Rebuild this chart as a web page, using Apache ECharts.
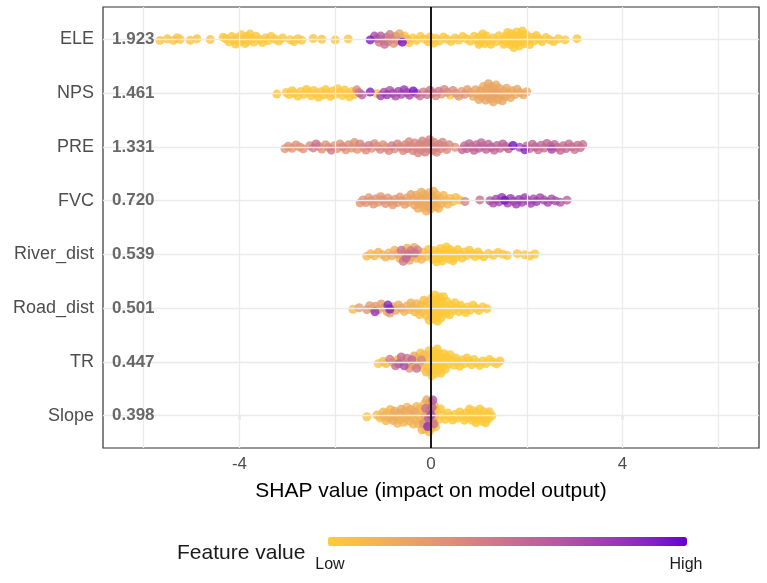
<!DOCTYPE html>
<html>
<head>
<meta charset="utf-8">
<script src="https://cdn.jsdelivr.net/npm/echarts@6/dist/echarts.min.js"></script>
<style>
  html, body { margin: 0; padding: 0; background: #fff; }
  #chart { width: 767px; height: 583px; }
</style>
</head>
<body>
<div id="chart"></div>
<script>
// features, top to bottom, with mean |SHAP| shown next to each name
var features = ['ELE', 'NPS', 'PRE', 'FVC', 'River_dist', 'Road_dist', 'TR', 'Slope'];
var meanAbs = ['1.923', '1.461', '1.331', '0.720', '0.539', '0.501', '0.447', '0.398'];
var xTicks = [-4, 0, 4];

// points per feature: [SHAP value, scaled feature value 0..1]
var ele = [[-5.66,.05],[-5.51,.05],[-5.38,.05],[-5.3,.05],[-5.24,.05],[-5.03,.05],[-4.89,.05],[-4.61,.05],
  [-4.34,.03],[-4.28,.03],[-4.22,.03],[-4.16,.03],[-4.12,.03],[-4.08,.03],[-4.04,.03],[-4.0,.03],[-3.96,.03],[-3.92,.03],[-3.88,.03],[-3.85,.03],[-3.82,.03],[-3.78,.03],[-3.74,.03],[-3.7,.03],
  [-3.65,.03],[-3.58,.03],[-3.52,.03],[-3.46,.03],[-3.4,.03],[-3.34,.03],[-3.26,.03],[-3.18,.03],[-3.1,.03],
  [-2.94,.04],[-2.86,.04],[-2.78,.04],[-2.7,.04],[-2.46,.05],[-2.28,.05],[-2.0,.05],[-1.73,.05],
  [-1.27,.92],[-1.18,.7],[-1.12,.55],[-1.08,.45],[-1.05,.62],[-1.0,.4],[-0.97,.5],[-0.93,.42],[-0.9,.35],[-0.86,.45],[-0.82,.38],[-0.78,.3],[-0.74,.25],[-0.7,.33],[-0.66,.2],[-0.62,.1],[-0.6,.95],[-0.55,.05],[-0.5,.12],
  [-0.46,.03],[-0.38,.03],[-0.3,.03],[-0.22,.03],[-0.14,.03],[-0.06,.03],[-0.02,.03],[0.02,.03],[0.06,.03],[0.1,.03],[0.18,.03],[0.26,.03],[0.34,.03],[0.42,.03],[0.5,.03],[0.58,.03],[0.66,.03],[0.74,.03],[0.82,.03],
  [0.9,.02],[0.95,.02],[1.0,.02],[1.02,.02],[1.04,.02],[1.08,.02],[1.1,.02],[1.12,.02],[1.16,.02],[1.2,.02],[1.25,.02],[1.3,.02],[1.36,.02],[1.42,.02],[1.48,.02],[1.52,.02],[1.56,.02],[1.58,.02],[1.6,.02],[1.63,.02],[1.66,.02],[1.68,.02],[1.7,.02],[1.73,.02],[1.76,.02],[1.78,.02],[1.79,.02],[1.82,.02],[1.85,.02],[1.87,.02],[1.88,.02],[1.91,.02],[1.94,.02],[1.96,.02],[1.98,.02],[2.02,.02],[2.06,.02],[2.1,.02],[2.15,.02],[2.2,.02],[2.26,.02],[2.32,.02],[2.4,.02],[2.48,.02],[2.56,.02],[2.66,.02],[2.8,.02],[3.05,.03]];

var nps = [[-3.22,.03],[-3.02,.02],[-2.96,.02],[-2.9,.02],[-2.85,.02],[-2.78,.02],[-2.72,.02],[-2.66,.02],[-2.6,.02],[-2.55,.02],[-2.5,.02],[-2.45,.02],[-2.4,.02],[-2.35,.02],[-2.3,.02],[-2.25,.02],[-2.2,.02],[-2.15,.02],[-2.1,.02],[-2.05,.02],[-2.0,.02],[-1.95,.02],[-1.9,.02],[-1.85,.02],[-1.8,.02],[-1.75,.02],[-1.7,.02],[-1.65,.02],[-1.6,.04],
  [-1.55,.35],[-1.5,.5],[-1.44,.6],[-1.27,.9],[-1.13,.05],[-1.05,.75],[-0.98,.7],[-0.92,.8],[-0.86,.65],[-0.8,.72],[-0.74,.68],[-0.68,.75],[-0.62,.7],[-0.56,.8],[-0.5,.65],[-0.45,.72],[-0.37,.95],[-0.3,.6],[-0.23,.5],[-0.16,.45],[-0.08,.5],[-0.02,.48],[0.04,.42],[0.1,.35],[0.16,.45],[0.22,.3],[0.28,.38],[0.34,.3],[0.4,.02],[0.46,.35],[0.52,.28],[0.58,.3],[0.64,.25],[0.7,.32],[0.76,.25],
  [0.82,.22],[0.88,.2],[0.93,.22],[0.97,.2],[1.0,.2],[1.03,.22],[1.06,.2],[1.09,.18],[1.12,.2],[1.14,.22],[1.16,.2],[1.18,.2],[1.2,.22],[1.22,.18],[1.24,.2],[1.26,.2],[1.28,.22],[1.3,.2],[1.32,.2],[1.34,.18],[1.36,.2],[1.38,.22],[1.4,.2],[1.43,.2],[1.46,.2],[1.49,.22],[1.52,.2],[1.55,.2],[1.58,.2],[1.62,.2],[1.66,.2],[1.7,.2],[1.75,.2],[1.8,.2],[1.86,.2],[1.93,.2],[2.0,.2]];

var pre = [[-3.05,.3],[-2.98,.32],[-2.9,.3],[-2.82,.33],[-2.74,.3],[-2.67,.32],[-2.53,.35],[-2.46,.45],[-2.4,.5],[-2.34,.35],[-2.28,.32],[-2.2,.3],[-2.14,.35],[-2.08,.45],[-2.02,.3],[-1.96,.33],[-1.9,.3],[-1.84,.38],[-1.78,.3],[-1.72,.35],[-1.66,.3],[-1.6,.32],[-1.59,0],[-1.54,.3],[-1.48,.4],[-1.42,.3],[-1.36,.35],[-1.3,.45],[-1.24,.32],[-1.18,.35],[-1.12,.3],[-1.06,.4],[-1.0,.33],[-0.94,.3],[-0.88,.38],[-0.82,.45],[-0.76,.35],[-0.7,.4],[-0.64,.38],
  [-0.58,.38],[-0.54,.36],[-0.5,.4],[-0.46,.38],[-0.42,.35],[-0.38,.4],[-0.34,.38],[-0.3,.36],[-0.27,.4],[-0.24,.38],[-0.21,.35],[-0.18,.4],[-0.15,.38],[-0.12,.42],[-0.09,.38],[-0.06,.36],[-0.03,.4],[0,.38],[0.03,.4],[0.06,.38],[0.09,.42],[0.12,.38],[0.16,.4],[0.2,.36],[0.24,.4],[0.28,.38],[0.33,.35],[0.38,.38],[0.5,.32],
  [0.65,.55],[0.7,.55],[0.75,.58],[0.8,.55],[0.85,.55],[0.9,.58],[0.95,.55],[1.0,.6],[1.05,.55],[1.1,.55],[1.15,.58],[1.2,.55],[1.26,.6],[1.32,.55],[1.38,.58],[1.44,.55],[1.5,.6],[1.56,.55],[1.62,.58],[1.71,.95],[1.85,.7],[1.96,.9],[2.0,.55],[2.06,.5],[2.12,.55],[2.18,.58],[2.24,.5],[2.3,.55],[2.36,.52],[2.42,.55],[2.5,.6],[2.52,.75],[2.58,.55],[2.64,.5],[2.7,.55],[2.76,.52],[2.82,.55],[2.88,.5],[2.94,.52],[3.0,.48],[3.06,.5],[3.12,.52],[3.17,.48]];

var fvc = [[-1.48,.3],[-1.42,.32],[-1.36,.3],[-1.3,.28],[-1.25,.32],[-1.2,.3],[-1.15,.3],[-1.1,.28],[-1.05,.3],[-1.0,.32],[-0.95,.3],[-0.9,.28],[-0.85,.3],[-0.8,.27],[-0.75,.3],[-0.7,.26],[-0.65,.28],[-0.6,.25],[-0.55,.25],
  [-0.5,.22],[-0.46,.2],[-0.42,.22],[-0.38,.18],[-0.34,.2],[-0.31,.18],[-0.28,.2],[-0.27,.17],[-0.25,.16],[-0.22,.18],[-0.2,.17],[-0.19,.2],[-0.16,.15],[-0.14,.17],[-0.13,.18],[-0.1,.16],[-0.08,.17],[-0.07,.2],[-0.04,.15],[-0.02,.17],[-0.01,.18],[0.02,.16],[0.04,.17],[0.05,.15],[0.08,.18],[0.1,.16],[0.11,.14],[0.14,.15],[0.16,.14],[0.18,.12],[0.22,.15],[0.26,.12],[0.3,.1],[0.35,.12],[0.4,.1],[0.46,.08],[0.52,.06],[0.6,.08],[0.71,.4],[1.02,.5],
  [1.23,.65],[1.3,.7],[1.36,.75],[1.42,.7],[1.48,.8],[1.54,.95],[1.6,.72],[1.66,.78],[1.72,.7],[1.78,.75],[1.84,.8],[1.9,.72],[1.96,.78],[2.02,.7],[2.08,.75],[2.14,.7],[2.2,.8],[2.28,.72],[2.36,.7],[2.44,.75],[2.52,.7],[2.6,.72],[2.7,.65],[2.84,.6]];

var riverDist = [[-1.34,.1],[-1.26,.12],[-1.18,.1],[-1.1,.15],[-1.02,.12],[-0.95,.15],[-0.88,.12],[-0.82,.18],[-0.76,.15],[-0.7,.2],[-0.65,.15],[-0.62,.5],[-0.6,.18],[-0.58,.45],[-0.55,.2],[-0.52,.55],[-0.5,.15],[-0.48,.5],[-0.45,.2],[-0.42,.45],[-0.4,.15],[-0.35,.18],[-0.34,.5],[-0.3,.12],[-0.28,.4],[-0.25,.1],[-0.2,.12],[-0.15,.08],[-0.1,.1],[-0.05,.06],
  [0,.03],[0.04,.02],[0.06,.02],[0.08,.02],[0.12,.02],[0.14,.02],[0.16,.02],[0.2,.02],[0.22,.02],[0.24,.02],[0.28,.02],[0.3,.02],[0.32,.02],[0.36,.02],[0.38,.02],[0.4,.02],[0.44,.02],[0.46,.02],[0.48,.02],[0.52,.02],[0.56,.02],[0.6,.02],[0.65,.02],[0.7,.02],[0.75,.02],[0.8,.02],[0.86,.02],[0.92,.02],[0.98,.02],[1.02,.02],[1.1,.03],[1.2,.03],[1.3,.03],[1.4,.03],[1.5,.03],[1.59,.03],[1.8,.03],[1.96,.03],[2.06,.03],[2.17,.03]];

var roadDist = [[-1.63,.1],[-1.5,.25],[-1.34,.3],[-1.28,.25],[-1.22,.22],[-1.17,.82],[-1.16,.25],[-1.1,.2],[-1.04,.25],[-0.98,.22],[-0.92,.2],[-0.9,.88],[-0.86,.9],[-0.86,.25],[-0.8,.2],[-0.74,.22],[-0.68,.18],[-0.62,.2],[-0.56,.15],
  [-0.5,.15],[-0.46,.12],[-0.42,.15],[-0.38,.12],[-0.34,.1],[-0.3,.12],[-0.27,.1],[-0.24,.08],[-0.21,.1],[-0.18,.06],[-0.15,.08],[-0.12,.05],[-0.1,.06],[-0.08,.04],[-0.06,.05],[-0.04,.03],[-0.02,.04],[0,.03],[0.01,.02],[0.02,.02],[0.04,.03],[0.05,.02],[0.06,.02],[0.08,.02],[0.09,.02],[0.1,.02],[0.12,.02],[0.13,.02],[0.14,.02],[0.16,.02],[0.17,.02],[0.18,.02],[0.2,.02],[0.21,.02],[0.22,.02],[0.24,.02],[0.26,.02],[0.28,.02],[0.3,.02],[0.33,.02],[0.36,.02],[0.39,.02],[0.42,.02],[0.46,.02],[0.5,.02],[0.54,.02],[0.58,.02],[0.62,.02],[0.67,.02],[0.72,.02],[0.77,.02],[0.82,.02],[0.88,.02],[0.94,.02],[1.0,.02],[1.08,.02],[1.17,.02]];

var tr = [[-1.1,.05],[-1.0,.08],[-0.94,.1],[-0.86,.45],[-0.8,.2],[-0.74,.5],[-0.7,.1],[-0.68,.6],[-0.62,.55],[-0.6,.12],[-0.56,.7],[-0.5,.45],[-0.48,.1],[-0.45,.3],[-0.4,.55],[-0.38,.05],[-0.35,.2],[-0.32,.08],[-0.3,.5],[-0.27,.05],[-0.25,.15],[-0.22,.05],[-0.2,.4],[-0.17,.05],[-0.15,.1],[-0.12,.04],[-0.1,.1],[-0.08,.03],
  [-0.06,.02],[-0.04,.02],[-0.02,.02],[-0.01,.02],[0,.02],[0.01,.02],[0.02,.02],[0.04,.02],[0.05,.02],[0.06,.02],[0.08,.02],[0.09,.02],[0.1,.02],[0.12,.02],[0.13,.02],[0.14,.02],[0.16,.02],[0.17,.02],[0.18,.02],[0.21,.02],[0.23,.02],[0.24,.02],[0.27,.02],[0.29,.02],[0.3,.02],[0.33,.02],[0.36,.02],[0.4,.02],[0.44,.02],[0.48,.02],[0.52,.02],[0.56,.02],[0.6,.02],[0.65,.02],[0.7,.02],[0.75,.02],[0.8,.02],[0.85,.02],[0.9,.02],[0.96,.02],[1.02,.02],[1.08,.02],[1.15,.02],[1.22,.02],[1.3,.02],[1.37,.02],[1.44,.02]];

var slope = [[-1.34,.05],[-1.13,.08],[-1.06,.1],[-1.0,.12],[-0.98,.15],[-0.94,.1],[-0.91,.12],[-0.88,.15],[-0.85,.1],[-0.82,.1],[-0.79,.18],[-0.76,.2],[-0.73,.12],[-0.7,.12],[-0.67,.15],[-0.65,.15],[-0.62,.2],[-0.6,.1],[-0.57,.12],[-0.55,.18],[-0.52,.15],[-0.5,.12],[-0.47,.1],[-0.45,.15],[-0.42,.2],[-0.4,.1],[-0.37,.12],[-0.35,.2],[-0.32,.15],[-0.3,.12],[-0.28,.1],[-0.26,.15],[-0.24,.12],[-0.22,.1],[-0.19,.12],
  [-0.17,.1],[-0.16,.3],[-0.14,.1],[-0.13,.25],[-0.12,.1],[-0.11,.5],[-0.1,.12],[-0.09,.2],[-0.08,.1],[-0.07,.85],[-0.06,.1],[-0.05,.6],[-0.04,.1],[-0.03,.45],[-0.02,.15],[-0.01,.2],[0,.7],[0.01,.1],[0.02,.55],[0.03,.2],[0.04,.65],[0.05,.1],[0.06,.5],[0.07,.15],[0.08,.1],[0.1,.05],[0.12,.05],
  [0.16,.02],[0.2,.02],[0.25,.02],[0.3,.02],[0.35,.02],[0.4,.02],[0.45,.02],[0.5,.02],[0.55,.02],[0.6,.02],[0.65,.02],[0.7,.02],[0.74,.02],[0.78,.02],[0.8,.02],[0.82,.02],[0.86,.02],[0.88,.02],[0.9,.02],[0.94,.02],[0.96,.02],[0.98,.02],[1.02,.02],[1.04,.02],[1.06,.02],[1.1,.02],[1.12,.02],[1.14,.02],[1.18,.02],[1.2,.02],[1.22,.02],[1.27,.02]];

var featureSets = [ele, nps, pre, fvc, riverDist, roadDist, tr, slope];

var FONT = '"Liberation Sans", Arial, sans-serif';
var X_MIN = -6.85, X_MAX = 6.85;

// low/high colours of the feature value scale, blended in Lab like ggplot does
function hex2rgb(h) { return [1, 3, 5].map(function (i) { return parseInt(h.substr(i, 2), 16); }); }
function rgb2lab(c) {
  var v = c.map(function (x) { x /= 255; return x <= 0.04045 ? x / 12.92 : Math.pow((x + 0.055) / 1.055, 2.4); });
  var X = (0.4124 * v[0] + 0.3576 * v[1] + 0.1805 * v[2]) / 0.95047;
  var Y = 0.2126 * v[0] + 0.7152 * v[1] + 0.0722 * v[2];
  var Z = (0.0193 * v[0] + 0.1192 * v[1] + 0.9505 * v[2]) / 1.08883;
  var f = function (t) { return t > 0.008856 ? Math.cbrt(t) : 7.787 * t + 16 / 116; };
  var fx = f(X), fy = f(Y), fz = f(Z);
  return [116 * fy - 16, 500 * (fx - fy), 200 * (fy - fz)];
}
function lab2hex(l) {
  var fy = (l[0] + 16) / 116, fx = fy + l[1] / 500, fz = fy - l[2] / 200;
  var g = function (t) { return t > 0.206893 ? t * t * t : (t - 16 / 116) / 7.787; };
  var X = g(fx) * 0.95047, Y = g(fy), Z = g(fz) * 1.08883;
  var rgb = [3.2406 * X - 1.5372 * Y - 0.4986 * Z, -0.9689 * X + 1.8758 * Y + 0.0415 * Z, 0.0557 * X - 0.2040 * Y + 1.0570 * Z];
  return '#' + rgb.map(function (x) {
    x = x <= 0.0031308 ? 12.92 * x : 1.055 * Math.pow(x, 1 / 2.4) - 0.055;
    x = Math.round(Math.max(0, Math.min(1, x)) * 255);
    return (x < 16 ? '0' : '') + x.toString(16);
  }).join('');
}
var lowLab = rgb2lab(hex2rgb('#FFCC33')), highLab = rgb2lab(hex2rgb('#6600CC'));
var gradStops = [];
for (var s = 0; s <= 10; s++) {
  var t = s / 10;
  gradStops.push(lab2hex([0, 1, 2].map(function (k) { return lowLab[k] + (highLab[k] - lowLab[k]) * t; })));
}

// sina-style layout: vertical spread follows the local density of each row
var BW = 0.12, MAX_HALF = 0.33, POW = 1.0, GOLD = 0.6180339887;
var dens = featureSets.map(function (pts) {
  return pts.map(function (p) {
    var sum = 0;
    pts.forEach(function (q) { var d = (p[0] - q[0]) / BW; sum += Math.exp(-0.5 * d * d); });
    return sum;
  });
});
var dMax = 0;
dens.forEach(function (arr) { arr.forEach(function (v) { if (v > dMax) dMax = v; }); });

var points = [];
featureSets.forEach(function (pts, fi) {
  var row = features.length - 1 - fi;
  var order = pts.map(function (p, i) { return i; }).sort(function (a, b) { return pts[a][0] - pts[b][0]; });
  order.forEach(function (idx, k) {
    var half = MAX_HALF * Math.pow(dens[fi][idx] / dMax, POW);
    var u = ((k * GOLD) % 1) * 2 - 1;
    points.push([pts[idx][0], row + u * half, pts[idx][1]]);
  });
});
points.sort(function (a, b) { return a[2] - b[2]; });

var rows = features.map(function (f, i) { return features.length - 1 - i; });
var labelData = features.map(function (f, i) { return [X_MIN, features.length - 1 - i, meanAbs[i]]; });

var gridLines = [-6, -4, -2, 2, 4, 6].map(function (v) { return { xAxis: v }; })
  .concat(rows.map(function (r) { return { yAxis: r }; }));

var chart = echarts.init(document.getElementById('chart'));
chart.setOption({
  backgroundColor: '#fff',
  animation: false,
  textStyle: { fontFamily: FONT },
  grid: { left: 103, right: 8, top: 7, bottom: 135, show: true, borderColor: '#333', borderWidth: 1.2, backgroundColor: 'transparent' },
  xAxis: {
    type: 'value', min: X_MIN, max: X_MAX,
    splitLine: { show: false },
    axisLine: { show: false },
    axisTick: { show: true, customValues: xTicks, length: 4, lineStyle: { color: '#333', width: 1.2 } },
    axisLabel: { customValues: xTicks, color: '#4d4d4d', fontSize: 17, margin: 8, fontFamily: FONT },
    name: 'SHAP value (impact on model output)', nameLocation: 'middle', nameGap: 33,
    nameTextStyle: { color: '#000', fontSize: 21, fontFamily: FONT }
  },
  yAxis: {
    type: 'value', min: -0.6, max: 7.6,
    splitLine: { show: false },
    axisLine: { show: false },
    axisTick: { show: true, customValues: rows, length: 3, lineStyle: { color: '#333', width: 1.2 } },
    axisLabel: {
      customValues: rows, color: '#4d4d4d', fontSize: 18, margin: 9, fontFamily: FONT,
      formatter: function (v) { return features[features.length - 1 - Math.round(v)]; }
    }
  },
  visualMap: {
    type: 'continuous', seriesIndex: 1, dimension: 2, min: 0, max: 1,
    orient: 'horizontal', left: 328, top: 537, itemWidth: 9, itemHeight: 359,
    padding: 0, calculable: false, hoverLink: false, text: null, showLabel: false,
    inRange: { color: gradStops }
  },
  graphic: [
    { type: 'text', left: 177, top: 543, style: { text: 'Feature value', fill: '#1a1a1a', font: '21px ' + FONT } },
    { type: 'text', x: 330, y: 557, style: { text: 'Low', fill: '#1a1a1a', font: '16px ' + FONT, textAlign: 'center' } },
    { type: 'text', x: 686, y: 557, style: { text: 'High', fill: '#1a1a1a', font: '16px ' + FONT, textAlign: 'center' } }
  ],
  series: [
    {
      type: 'scatter', data: [], z: 1, silent: true,
      markLine: {
        silent: true, symbol: ['none', 'none'], label: { show: false }, animation: false,
        lineStyle: { color: '#ebebeb', type: 'solid', width: 1.3 },
        data: gridLines.concat([{ xAxis: 0, lineStyle: { color: '#000', width: 1.8 } }])
      }
    },
    {
      type: 'scatter', data: points, z: 3, symbolSize: 9, silent: true,
      itemStyle: { opacity: 0.8 }
    },
    {
      type: 'scatter', data: labelData, zlevel: 1, z: 4, symbolSize: 0, silent: true,
      label: {
        show: true, position: 'right', distance: 9, color: '#444', fontSize: 17, fontWeight: 'bold', fontFamily: FONT,
        formatter: function (p) { return p.data[2]; }
      }
    }
  ]
});
</script>
</body>
</html>
